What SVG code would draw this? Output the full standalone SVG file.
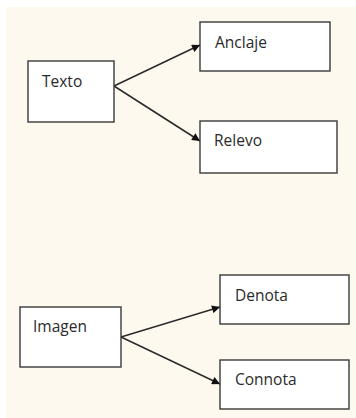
<svg xmlns="http://www.w3.org/2000/svg" width="356" height="418" viewBox="0 0 356 418">
<style>
.box{fill:#fff;stroke:#3a3a3a;stroke-width:1.4}
.lbl{font-family:"Open Sans","Liberation Sans",sans-serif;font-size:15.5px;fill:#2a2a2a}
.edge{stroke:#2a2a2a;stroke-width:1.5;fill:none;marker-end:url(#ah)}
</style>
<defs>
<marker id="ah" viewBox="0 0 10 10" refX="10" refY="5" markerWidth="9" markerHeight="8" markerUnits="userSpaceOnUse" orient="auto"><path d="M0,0 L10,5 L0,10 z" fill="#111"/></marker>
</defs>
<rect width="356" height="418" fill="#fff"/>
<rect x="6" y="7" width="350" height="411" fill="#fdf9ef"/>
<g id="connectors">
<line class="edge" x1="114" y1="86" x2="200" y2="45"/>
<line class="edge" x1="114" y1="86" x2="200" y2="141"/>
<line class="edge" x1="121" y1="337" x2="220" y2="307"/>
<line class="edge" x1="121" y1="337" x2="220" y2="384"/>
</g>
<g id="texto"><rect class="box" x="28" y="61" width="86" height="61"/><text class="lbl" x="42" y="87">Texto</text></g>
<g id="anclaje"><rect class="box" x="200" y="22" width="130" height="49"/><text class="lbl" x="215" y="48">Anclaje</text></g>
<g id="relevo"><rect class="box" x="200" y="121" width="137" height="52"/><text class="lbl" x="214" y="146">Relevo</text></g>
<g id="imagen"><rect class="box" x="20" y="307" width="101" height="60"/><text class="lbl" x="33" y="332">Imagen</text></g>
<g id="denota"><rect class="box" x="220" y="275" width="129" height="49"/><text class="lbl" x="235" y="301">Denota</text></g>
<g id="connota"><rect class="box" x="220" y="360" width="129" height="49"/><text class="lbl" x="235" y="385">Connota</text></g>
</svg>
